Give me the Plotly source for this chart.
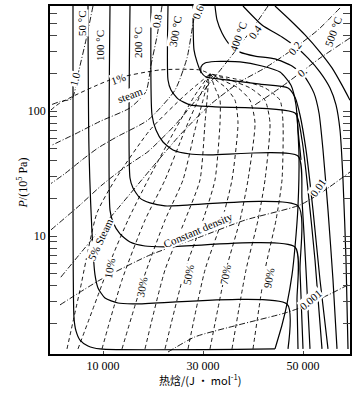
import math
import plotly.graph_objects as go

# enthalpy (J/mol) and pressure (10^5 Pa)

# isotherms (solid)
t50_h = [4000, 4000, 4200, 4600, 5400, 7000, 9400, 44400]
t50_p = [692, 19.4, 2.21, 1.74, 1.47, 1.32, 1.25, 1.25]
t100_h = [7000, 7200, 8000, 8400, 9000, 10400, 13000, 16400, 46800, 47000]
t100_p = [692, 48.8, 7.73, 4.88, 3.84, 3.19, 2.91, 2.86, 2.86, 1.25]
t150_h = [11400, 11400, 12000, 13400, 15400, 18400, 22400, 48400, 48800, 49000]
t150_p = [692, 16.1, 12.9, 10.4, 8.95, 8.32, 8.17, 8.17, 3.08, 1.25]
t200_h = [15400, 15400, 16000, 17400, 19400, 22400, 49000, 49400, 50000]
t200_p = [692, 29.1, 24.2, 20.1, 18.4, 17.4, 17.4, 5.35, 1.25]
t250_h = [19600, 19800, 20600, 22000, 24000, 27400, 31400, 49000, 49800, 50600, 51400]
t250_p = [692, 92.9, 70.5, 56.5, 48.8, 45.3, 44.5, 43.7, 19.4, 5.35, 1.25]
t300_h = [23000, 23000, 23600, 25000, 27400, 32400, 48400, 49800, 51000, 52400, 53800]
t300_p = [692, 177, 147, 125, 112, 108, 96.4, 58.6, 23.3, 6.43, 1.25]
t350_h = [28000, 28200, 28800, 29600, 30600, 33400, 41400, 47000, 48400, 49400, 50600, 52000, 53400, 55000]
t350_p = [692, 308, 247, 205, 187, 180, 164, 153, 129, 92.9, 48.8, 16.1, 4.45, 1.25]
crit_h = [29600, 29600, 30400, 32400, 37400, 41800, 45400, 47600, 48600, 49000, 49600]
crit_p = [201, 225, 242, 249, 247, 229, 205, 161, 112, 70.5, 40.6]
t400_h = [32400, 32800, 33800, 35400, 37400, 40400, 44400, 47800, 50400, 52200, 53200, 54000, 55000, 56000, 56800]
t400_p = [692, 535, 421, 337, 296, 275, 261, 229, 187, 139, 96.4, 48.8, 16.1, 4.45, 1.25]
t450_h = [38000, 41800, 45800, 48600, 51000, 53400, 55400, 56600, 57400, 58000, 58600, 59000]
t450_p = [692, 488, 391, 325, 265, 205, 153, 112, 70.5, 28.1, 6.43, 1.25]
t500_h = [44400, 47400, 50400, 53400, 55800, 57800, 59400]
t500_p = [692, 535, 406, 296, 221, 161, 122]
dew_h = [44400, 45800, 46800, 47800, 48400, 49000, 49200, 48800]
dew_p = [1.25, 1.94, 2.86, 4.88, 8.17, 17.4, 43.7, 96.4]

# steam fraction lines (dashed)
q_top_p = [1.25, 5.35, 13.4, 28.1, 80.2, 122, 153, 177, 198]
q90_h = [40000, 42400, 44600, 45800, 46000, 45400, 42400, 37400, 31400]
q80_h = [35800, 38600, 41000, 42400, 43400, 42400, 39400, 35400, 31400]
q70_h = [31400, 34600, 37400, 39000, 40400, 39400, 37000, 33800, 31400]
q60_h = [27000, 30400, 33800, 35800, 37000, 36400, 34600, 32600, 31400]
q_mid_p = [1.25, 5.35, 13.4, 28.1, 80.2, 122, 153, 198]
q50_h = [22400, 26400, 30000, 32400, 33400, 33400, 32400, 31400]
q40_h = [18400, 22400, 26400, 29400, 30400, 30800, 31000, 31400]
q_low_p = [1.25, 4.45, 13.4, 28.1, 70.5, 122, 198]
q30_h = [13800, 18000, 22400, 26000, 28400, 30000, 31400]
q20_h = [9800, 13800, 18400, 22400, 26400, 29000, 31400]
q10_h = [5000, 9400, 12000, 15000, 19000, 24400, 28400, 31400]
q10_p = [1.25, 3.70, 7.05, 13.4, 28.1, 70.5, 134, 198]
q5_h = [2800, 5400, 8800, 12400, 19400, 26400, 31400]
q5_p = [1.25, 3.70, 15.3, 28.1, 70.5, 134, 198]
q1_h = [-400, 1400, 11400, 21400, 29400, 31400]
q1_p = [102, 116, 177, 213, 213, 198]

# constant density lines (dash-dot), g/cm3
d10_h = [8000, 6600, 5200, 3800, 1400, -400]
d10_p = [692, 370, 213, 126, 119, 112]
d08_h = [21800, 20800, 19600, 18600, 15400, 9400, 4400, -400]
d08_p = [692, 396, 233, 143, 106, 82.6, 65.4, 52.9]
d06_h = [28600, 27800, 26800, 24400, 19000, 12800, 9000, 5800, 2400, -400]
d06_p = [692, 445, 265, 147, 84.7, 62.2, 50.6, 40.6, 31.6, 26.3]
d04_h = [43000, 40400, 37400, 33800, 29400, 24400, 19000, 16000, 13000, 9800, 5400, -400]
d04_p = [692, 488, 337, 221, 134, 77.2, 47.3, 39.2, 32.3, 25.6, 17.7, 11.2]
d02_h = [57400, 53000, 47800, 42400, 37400, 31400, 25400, 19400, 13400, 7400, 1400]
d02_p = [667, 445, 308, 221, 171, 112, 64.3, 33.7, 17.4, 9.0, 4.6]
d01_h = [59400, 53400, 49400, 45400, 40400]
d01_p = [384, 265, 201, 153, 112]
d001_h = [1400, 9400, 19400, 29400, 38400, 49400, 54400, 59400]
d001_p = [2.81, 4.45, 7.05, 9.82, 13.4, 17.7, 23.3, 32.5]
d0001_h = [23000, 28400, 37000, 46400, 49800, 55000, 59000]
d0001_p = [1.18, 1.56, 1.94, 2.42, 2.70, 3.37, 4.06]

# axis ticks
p_ticks = [2, 3, 4, 5, 6, 7, 8, 9, 10, 20, 30, 40, 50, 60, 70, 80, 90, 100, 200, 300, 400, 500, 600]
p_tick_text = ["10" if v == 10 else "100" if v == 100 else "" for v in p_ticks]
h_ticks = [10000, 30000, 50000]
h_tick_text = ["10 000", "30 000", "50 000"]

fig = go.Figure()


def add_line(h, p, dash="solid", width=1.1):
    fig.add_trace(go.Scatter(x=h, y=p, mode="lines", hoverinfo="skip", showlegend=False,
                             line=dict(color="black", width=width, dash=dash, shape="spline", smoothing=0.6)))


for h, p in [(t50_h, t50_p), (t100_h, t100_p), (t150_h, t150_p), (t200_h, t200_p),
             (t250_h, t250_p), (t300_h, t300_p), (t350_h, t350_p), (crit_h, crit_p),
             (t400_h, t400_p), (t450_h, t450_p), (t500_h, t500_p), (dew_h, dew_p)]:
    add_line(h, p, "solid", 1.2)

for h, p in [(q90_h, q_top_p), (q80_h, q_top_p), (q70_h, q_top_p), (q60_h, q_top_p),
             (q50_h, q_mid_p), (q40_h, q_mid_p), (q30_h, q_low_p), (q20_h, q_low_p),
             (q10_h, q10_p), (q5_h, q5_p), (q1_h, q1_p)]:
    add_line(h, p, "4px,3px", 0.9)

for h, p in [(d10_h, d10_p), (d08_h, d08_p), (d06_h, d06_p), (d04_h, d04_p),
             (d02_h, d02_p), (d01_h, d01_p), (d001_h, d001_p), (d0001_h, d0001_p)]:
    add_line(h, p, "6px,2px,1px,2px", 0.9)

serif = "Liberation Serif"
labels = [
    ("50 °C", 5800, 506, -90), ("100 °C", 9400, 331, -90), ("200 °C", 17000, 350, -90),
    ("300 °C", 24400, 430, -80), ("400 °C", 37000, 391, -70), ("500 °C", 56000, 429, -70),
    ("1.0", 4400, 180, -75), ("0.8", 20800, 525, -80), ("0.6", 29000, 619, -70),
    ("0.4", 40400, 429, -55), ("0.2", 48400, 319, -50), ("0.", 49800, 205, -40),
    ("0.01", 53000, 24, -55), ("0.001", 51400, 3.1, -40),
    ("1%", 13000, 180, -20), ("steam", 15400, 135, -20),
    ("5% Steam", 9400, 9.3, -65), ("10%", 11400, 5.5, -80), ("30%", 17800, 3.9, -80),
    ("50%", 27000, 4.9, -80), ("70%", 34400, 4.9, -80), ("90%", 43200, 4.6, -80),
    ("Constant density", 29000, 11.2, -23),
]
for txt, hx, pv, ang in labels:
    fig.add_annotation(x=hx, y=math.log10(pv), text=txt, showarrow=False, textangle=ang,
                       font=dict(family=serif, size=11, color="black"), bgcolor="white", borderpad=0)

fig.add_annotation(xref="paper", yref="paper", x=0.5, y=-0.072, yanchor="middle",
                   text="热焓/(J • mol<sup>-1</sup>)", showarrow=False,
                   font=dict(family="Noto Sans CJK SC", size=11, color="black"))
fig.add_annotation(xref="paper", yref="paper", x=-0.125, y=0.49, textangle=-90,
                   text="<i>P</i>/(10<sup>5</sup> Pa)", showarrow=False,
                   font=dict(family=serif, size=12, color="black"))

fig.update_layout(
    width=364, height=393, margin=dict(l=50, r=14, t=6, b=39),
    plot_bgcolor="white", paper_bgcolor="white",
    xaxis=dict(range=[-600, 59400], tickvals=h_ticks, ticktext=h_tick_text, ticks="inside", ticklen=3,
               showgrid=False, zeroline=False, showline=True, linecolor="black", linewidth=1.5,
               mirror=True, automargin=False,
               tickfont=dict(family=serif, size=12, color="black")),
    yaxis=dict(type="log", range=[0.056, 2.84], tickvals=p_ticks, ticktext=p_tick_text,
               ticks="inside", ticklen=7, showgrid=False, zeroline=False, showline=True,
               linecolor="black", linewidth=1.5, mirror="ticks", automargin=False,
               tickfont=dict(family=serif, size=12, color="black")),
)

# page body has a default margin; drop it so the figure sits at the window corner
fig.write_html("out.html", config={"displayModeBar": False},
               post_script="document.body.style.margin='0';")
